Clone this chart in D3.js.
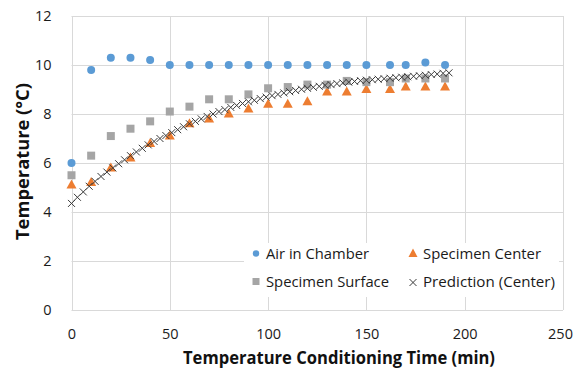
<!DOCTYPE html>
<html>
<head>
<meta charset="utf-8">
<script src="https://cdn.jsdelivr.net/npm/d3@7"></script>
<style>
  body { margin: 0; background: #fff; }
  svg { font-family: "Open Sans", "Noto Sans", sans-serif; }
</style>
</head>
<body>
<div id="chart"></div>
<script>
// measured series (time in min, temperature in °C)
var sampleTime = [0, 10, 20, 30, 40, 50, 60, 70, 80, 90, 100, 110, 120, 130, 140, 150, 162, 170, 180, 190];
var airTemp = [6.0, 9.8, 10.3, 10.3, 10.2, 10.0, 10.0, 10.0, 10.0, 10.0, 10.0, 10.0, 10.0, 10.0, 10.0, 10.0, 10.0, 10.0, 10.1, 10.0];
var centerTemp = [5.1, 5.2, 5.8, 6.2, 6.8, 7.1, 7.6, 7.8, 8.0, 8.2, 8.4, 8.4, 8.5, 8.9, 8.9, 9.0, 9.0, 9.1, 9.1, 9.1];
var surfaceTemp = [5.5, 6.3, 7.1, 7.4, 7.7, 8.1, 8.3, 8.6, 8.6, 8.8, 9.05, 9.1, 9.2, 9.2, 9.35, 9.3, 9.3, 9.45, 9.45, 9.45];

// prediction (center), every 3 min
var predTime = [0, 3, 6, 9, 12, 15, 18, 21, 24, 27, 30, 33, 36, 39, 42, 45, 48, 51, 54, 57, 60, 63, 66, 69, 72, 75, 78, 81, 84, 87, 90, 93, 96, 99, 102, 105, 108, 111, 114, 117, 120, 123, 126, 129, 132, 135, 138, 141, 144, 147, 150, 153, 156, 159, 162, 165, 168, 171, 174, 177, 180, 183, 186, 189, 192];
var predTemp = [4.35, 4.6, 4.82, 5.05, 5.25, 5.45, 5.63, 5.8, 5.97, 6.13, 6.3, 6.45, 6.6, 6.74, 6.88, 7.0, 7.12, 7.24, 7.36, 7.48, 7.6, 7.7, 7.8, 7.9, 8.0, 8.1, 8.18, 8.27, 8.35, 8.43, 8.5, 8.56, 8.63, 8.69, 8.75, 8.8, 8.86, 8.91, 8.96, 9.01, 9.05, 9.09, 9.13, 9.17, 9.2, 9.24, 9.27, 9.3, 9.33, 9.36, 9.38, 9.4, 9.42, 9.44, 9.46, 9.48, 9.5, 9.52, 9.54, 9.56, 9.58, 9.61, 9.63, 9.66, 9.68];

var xTicks = [0, 50, 100, 150, 200, 250];
var yTicks = [0, 2, 4, 6, 8, 10, 12];

var legendItems = [
  {name: "Air in Chamber", shape: "circle"},
  {name: "Specimen Center", shape: "triangle"},
  {name: "Specimen Surface", shape: "square"},
  {name: "Prediction (Center)", shape: "cross"}
];

var width = 574, height = 376;
var plotLeft = 71.5, plotRight = 563, plotTop = 16, plotBottom = 310;

var svg = d3.select("#chart").append("svg")
  .attr("width", width)
  .attr("height", height);

var x = d3.scaleLinear().domain([0, 250]).range([plotLeft, plotRight]);
var y = d3.scaleLinear().domain([0, 12]).range([plotBottom, plotTop]);

// gridlines
svg.append("g").selectAll("line")
  .data(yTicks).enter().append("line")
  .attr("x1", plotLeft).attr("x2", plotRight)
  .attr("y1", function(d) { return Math.round(y(d)) + 0.5; })
  .attr("y2", function(d) { return Math.round(y(d)) + 0.5; })
  .attr("stroke", "#d9d9d9").attr("stroke-width", 1);
svg.append("g").selectAll("line")
  .data(xTicks).enter().append("line")
  .attr("y1", plotTop).attr("y2", plotBottom)
  .attr("x1", function(d) { return Math.round(x(d)) + 0.5; })
  .attr("x2", function(d) { return Math.round(x(d)) + 0.5; })
  .attr("stroke", "#d9d9d9").attr("stroke-width", 1);

// tick labels through d3 axes
var xAxis = svg.append("g")
  .attr("transform", "translate(0," + plotBottom + ")")
  .call(d3.axisBottom(x).tickValues(xTicks).tickSize(0).tickPadding(19));
var yAxis = svg.append("g")
  .attr("transform", "translate(" + plotLeft + ",0)")
  .call(d3.axisLeft(y).tickValues(yTicks).tickSize(0).tickPadding(20));
[xAxis, yAxis].forEach(function(a) {
  a.select(".domain").remove();
  a.selectAll("text")
    .attr("font-family", "'Open Sans', sans-serif")
    .attr("font-size", 14.5)
    .attr("fill", "#1a1a1a");
});
// last x label sits flush with the right edge, like the original
xAxis.selectAll(".tick").filter(function(d) { return d == 250; })
  .select("text").attr("dx", "-3");

// axis titles
svg.append("text")
  .attr("x", 339).attr("y", 364)
  .attr("text-anchor", "middle")
  .attr("font-size", 17).attr("font-weight", "bold")
  .attr("textLength", 312).attr("lengthAdjust", "spacingAndGlyphs")
  .attr("fill", "#111")
  .text("Temperature Conditioning Time (min)");
svg.append("text")
  .attr("transform", "translate(29,161.5) rotate(-90)")
  .attr("text-anchor", "middle")
  .attr("font-size", 17).attr("font-weight", "bold")
  .attr("textLength", 157).attr("lengthAdjust", "spacingAndGlyphs")
  .attr("fill", "#111")
  .text("Temperature (°C)");

// marker helpers
function drawMarker(g, shape) {
  if (shape == "circle") {
    g.append("circle").attr("r", 4).attr("fill", "#5b9bd5");
  } else if (shape == "triangle") {
    g.append("path").attr("d", "M0,-5.5L5,3.5L-5,3.5Z").attr("fill", "#ed7d31");
  } else if (shape == "square") {
    g.append("rect").attr("x", -4).attr("y", -4).attr("width", 8).attr("height", 8).attr("fill", "#a5a5a5");
  } else {
    g.append("path").attr("d", "M-3.5,-3.5L3.5,3.5M-3.5,3.5L3.5,-3.5")
      .attr("stroke", "#3a3a3a").attr("stroke-width", 1).attr("fill", "none");
  }
}

function series(times, temps, shape) {
  var pts = times.map(function(t, i) { return {x: t, y: temps[i]}; });
  svg.append("g").selectAll("g")
    .data(pts).enter().append("g")
    .attr("transform", function(d) { return "translate(" + x(d.x) + "," + y(d.y) + ")"; })
    .each(function() { drawMarker(d3.select(this), shape); });
}

series(sampleTime, airTemp, "circle");
series(sampleTime, centerTemp, "triangle");
series(sampleTime, surfaceTemp, "square");
series(predTime, predTemp, "cross");

// legend
var legend = svg.append("g");
legend.append("rect")
  .attr("x", 244).attr("y", 243).attr("width", 315).attr("height", 54)
  .attr("fill", "#fff");
var legendPos = [[256, 253.5, 266, 103], [413, 253.5, 423, 118], [256, 281.5, 266, 123], [413, 281.5, 423, 132]];
legendItems.forEach(function(item, i) {
  var p = legendPos[i];
  var m = legend.append("g").attr("transform", "translate(" + p[0] + "," + p[1] + ")");
  if (item.shape == "circle") m.append("circle").attr("r", 3.2).attr("fill", "#5b9bd5");
  else if (item.shape == "triangle") m.append("path").attr("d", "M0,-5L4.5,3.5L-4.5,3.5Z").attr("fill", "#ed7d31");
  else if (item.shape == "square") m.append("rect").attr("x", -3.5).attr("y", -3.5).attr("width", 7).attr("height", 7).attr("fill", "#a5a5a5");
  else m.append("path").attr("d", "M-3.5,-2.5L3.5,4.5M-3.5,4.5L3.5,-2.5").attr("stroke", "#3a3a3a").attr("fill", "none");
  legend.append("text")
    .attr("x", p[2]).attr("y", p[1]).attr("dy", "0.35em")
    .attr("font-size", 14.5)
    .attr("textLength", p[3]).attr("lengthAdjust", "spacingAndGlyphs")
    .attr("fill", "#1a1a1a")
    .text(item.name);
});
</script>
</body>
</html>
